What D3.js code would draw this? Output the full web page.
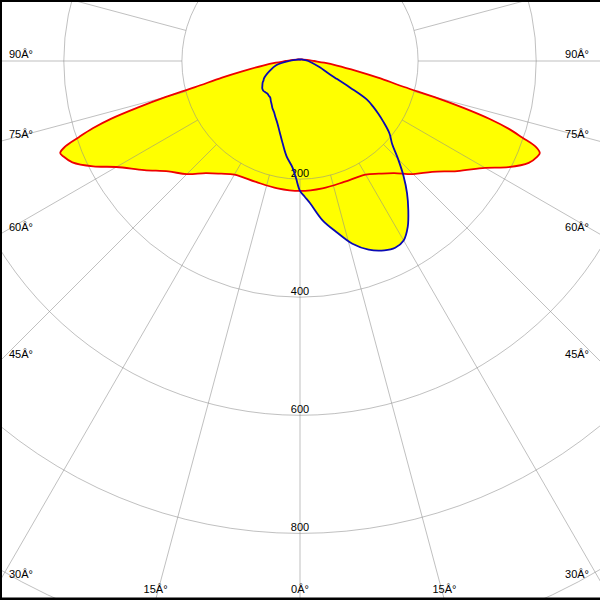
<!DOCTYPE html>
<html>
<head>
<meta charset="utf-8">
<script src="https://cdn.jsdelivr.net/npm/d3@7"></script>
<style>
  html, body { margin: 0; padding: 0; background: #fff; }
  svg { display: block; }
  text { font-family: "Liberation Sans", Arial, sans-serif; font-size: 11px; fill: #000; }
</style>
</head>
<body>
<svg id="chart" width="600" height="600"></svg>
<script>
// ---- data (candela) ----
const ringValues = [200, 400, 600, 800, 1000];
const ringLabels = ["200", "400", "600", "800", ""];
const angleTicks = [0, 15, 30, 45, 60, 75, 90];
const angleLabels = ["0Â°", "15Â°", "30Â°", "45Â°", "60Â°", "75Â°", "90Â°"];

// C0-C180 plane (red), gamma angles
const redAngles = [0, 10, 20, 30, 35, 40, 45, 50, 55, 60, 63, 66, 68, 69, 70, 71, 72, 73, 74, 75, 76, 78, 80, 83, 86, 90, 100, 120, 150, 180];
const redC0   = [220, 219, 218, 222, 233, 248, 271, 292, 325, 362, 396, 424, 433, 435, 425, 398, 372, 336, 288, 236, 182, 135, 98, 63, 41, 24, 12, 5, 3, 2.5];
const redC180 = [220, 219, 218, 222, 233, 248, 271, 291, 322, 359, 393, 422, 432, 435, 423, 396, 369, 334, 285, 235, 183, 135, 98, 63, 41, 24, 12, 5, 3, 2.5];

// C90-C270 plane (blue)
const blueAngles = [0, 2, 4, 8, 12, 16, 20, 24, 27, 30, 33, 36, 39, 42, 45, 48, 51, 54, 56, 58, 60, 62, 64, 67, 72, 80, 90, 120, 180];
const blueC90  = [220, 230, 241, 272, 296, 322, 340, 351, 355, 351, 335, 312, 288, 262, 235, 210, 195, 174, 160, 146, 131, 97, 70, 50, 36, 22, 14, 5, 2.5];
const blueC270 = [220, 198, 181, 163, 142, 125, 112, 103, 97, 93, 88, 84, 80, 79, 78, 79, 80, 79, 77, 75, 73, 70, 68, 63, 54, 41, 19, 5, 2.5];

// ---- layout ----
const W = 600, H = 600;
const cx = 300, cy = 61;
const r = d3.scaleLinear().domain([0, 1000]).range([0, 590.5]);
const svg = d3.select("#chart");

function pt(angleDeg, value, side) {
  const a = angleDeg * Math.PI / 180;
  const rr = r(value);
  return [cx + side * rr * Math.sin(a), cy + rr * Math.cos(a)];
}
function planePoints(angles, pos, neg) {
  const pts = [];
  angles.forEach((a, i) => pts.push(pt(a, pos[i], 1)));
  for (let i = angles.length - 2; i >= 1; i--) pts.push(pt(angles[i], neg[i], -1));
  return pts;
}
const line = d3.line().curve(d3.curveCatmullRomClosed.alpha(0.5));
const redPts = planePoints(redAngles, redC0, redC180);
const bluePts = planePoints(blueAngles, blueC90, blueC270);

// fills
svg.append("path").attr("d", line(redPts)).attr("fill", "#ffff00").attr("stroke", "none");
svg.append("path").attr("d", line(bluePts)).attr("fill", "#ffff00").attr("stroke", "none");

// grid
const grid = svg.append("g").attr("stroke", "#8c8c8c").attr("stroke-opacity", 0.55).attr("fill", "none").attr("stroke-width", 1);
grid.selectAll("circle").data(ringValues).join("circle")
  .attr("cx", cx).attr("cy", cy).attr("r", d => r(d));
const spokes = d3.range(0, 360, 15);
grid.selectAll("line").data(spokes).join("line")
  .attr("x1", d => cx + r(200) * Math.sin(d * Math.PI / 180))
  .attr("y1", d => cy + r(200) * Math.cos(d * Math.PI / 180))
  .attr("x2", d => cx + 1200 * Math.sin(d * Math.PI / 180))
  .attr("y2", d => cy + 1200 * Math.cos(d * Math.PI / 180));

// ring labels
svg.append("g").selectAll("text").data(ringValues).join("text")
  .attr("x", cx).attr("y", d => cy + r(d) - 2.5)
  .attr("text-anchor", "middle")
  .text((d, i) => ringLabels[i]);

// outlines
svg.append("path").attr("d", line(redPts)).attr("fill", "none").attr("stroke", "#ee0000").attr("stroke-width", 1.8);
svg.append("path").attr("d", line(bluePts)).attr("fill", "none").attr("stroke", "#0a0ab4").attr("stroke-width", 1.8);

// angle labels
const angG = svg.append("g");
angleTicks.forEach((a, i) => {
  const sides = a === 0 ? [1] : [-1, 1];
  sides.forEach(s => {
    const rad = a * Math.PI / 180;
    const sx = Math.sin(rad), cyv = Math.cos(rad);
    const tx = sx > 1e-9 ? (W / 2) / sx : Infinity;
    const ty = (H - cy) / cyv;
    let x, y, anchor;
    if (tx < ty) {
      y = cy + tx * cyv - 3;
      x = s < 0 ? 9 : 589;
      anchor = s < 0 ? "start" : "end";
    } else {
      x = cx + s * ty * sx;
      y = 593;
      anchor = "middle";
    }
    angG.append("text").attr("x", x).attr("y", y).attr("text-anchor", anchor).text(angleLabels[i]);
  });
});

// frame
svg.append("rect").attr("x", 0).attr("y", 0).attr("width", 2).attr("height", H).attr("fill", "#000");
svg.append("rect").attr("x", 0).attr("y", 0).attr("width", W).attr("height", 2).attr("fill", "#000");
svg.append("rect").attr("x", 0).attr("y", 597.5).attr("width", W).attr("height", 2.5).attr("fill", "#000");
</script>
</body>
</html>
